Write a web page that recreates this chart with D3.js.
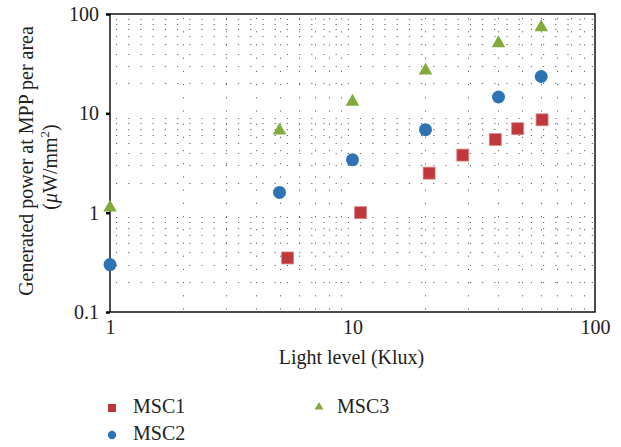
<!DOCTYPE html>
<html><head><meta charset="utf-8">
<script src="https://cdn.jsdelivr.net/npm/d3@7"></script>
<style>
body{margin:0;background:#fff;}
text{font-family:"Liberation Serif","Times New Roman",serif;fill:#222;}
</style></head>
<body>
<svg id="c" width="621" height="447"></svg>
<script>
const msc1X = [5.4, 10.8, 20.7, 28.5, 38.8, 48, 60.5];
const msc1Y = [0.35, 1.0, 2.5, 3.8, 5.45, 7.0, 8.6];
const msc2X = [1, 5, 10, 20, 40, 60];
const msc2Y = [0.3, 1.6, 3.4, 6.85, 14.6, 23.5];
const msc3X = [1, 5, 10, 20, 40, 60];
const msc3Y = [1.15, 6.85, 13.4, 27.5, 52, 75];
const xTicks = [1, 10, 100];
const yTicks = [0.1, 1, 10, 100];
const yTickLabels = ["0.1", "1", "10", "100"];
const seriesNames = ["MSC1", "MSC2", "MSC3"];

const svg = d3.select("#c");
const L = 110, R = 595, T = 14, B = 312;
const FS = 20;
const x = d3.scaleLog().domain([1, 100]).range([L, R]);
const y = d3.scaleLog().domain([0.1, 100]).range([B, T]);

const minorX = [], minorY = [];
[1, 10].forEach(d => { for (let k = 2; k <= 9; k++) minorX.push(d * k); });
[0.1, 1, 10].forEach(d => { for (let k = 2; k <= 9; k++) minorY.push(d * k); });

const g = svg.append("g");
g.selectAll(".hg").data(minorY).enter().append("line")
  .attr("x1", L + 6).attr("x2", R).attr("y1", d => Math.round(y(d)) + 0.5).attr("y2", d => Math.round(y(d)) + 0.5)
  .attr("stroke", "#666").attr("stroke-width", 1).attr("stroke-dasharray", "1.2,11");
g.selectAll(".vg").data(minorX).enter().append("line")
  .attr("y1", T + 4).attr("y2", B).attr("x1", d => Math.round(x(d)) + 0.5).attr("x2", d => Math.round(x(d)) + 0.5)
  .attr("stroke", "#666").attr("stroke-width", 1).attr("stroke-dasharray", "1.2,12");

svg.append("rect").attr("x", L).attr("y", T).attr("width", R - L).attr("height", B - T)
  .attr("fill", "none").attr("stroke", "#111").attr("stroke-width", 1.5);

const yAxis = d3.axisLeft(y).tickValues(yTicks).tickFormat((d, i) => yTickLabels[i]).tickSize(4).tickPadding(7);
const ya = svg.append("g").attr("transform", `translate(${L},0)`).call(yAxis);
ya.select(".domain").remove();
ya.selectAll("line").attr("stroke", "#000").attr("stroke-width", 2.5);
ya.selectAll("text").attr("font-size", FS).attr("fill", "#222")
  .style("font-family", '"Liberation Serif", serif');

const xAxis = d3.axisBottom(x).tickValues(xTicks).tickFormat(d3.format("d")).tickSize(0).tickPadding(8);
const xa = svg.append("g").attr("transform", `translate(0,${B})`).call(xAxis);
xa.select(".domain").remove();
xa.selectAll("text").attr("font-size", FS).attr("fill", "#222")
  .style("font-family", '"Liberation Serif", serif');

svg.append("text").attr("x", (L + R) / 2 - 1).attr("y", 364).attr("text-anchor", "middle")
  .attr("font-size", FS).text("Light level (Klux)");
const yt = svg.append("text").attr("transform", "translate(33,161) rotate(-90)")
  .attr("text-anchor", "middle").attr("font-size", FS);
yt.append("tspan").text("Generated power at MPP per area");
const yt2 = svg.append("text").attr("transform", "translate(57,167) rotate(-90)")
  .attr("text-anchor", "middle").attr("font-size", FS);
yt2.append("tspan").text("(");
yt2.append("tspan").attr("font-style", "italic").text("\u03bc");
yt2.append("tspan").text("W/mm");
yt2.append("tspan").attr("font-size", 13).attr("dy", -8).text("2");
yt2.append("tspan").attr("dy", 8).text(")");

const red = "#c0383c", blue = "#2e74b5", green = "#82ab3c";
const sq = 12;
svg.append("g").selectAll("rect").data(msc1X.map((d, i) => [d, msc1Y[i]])).enter().append("rect")
  .attr("x", d => x(d[0]) - sq / 2).attr("y", d => y(d[1]) - sq / 2)
  .attr("width", sq).attr("height", sq).attr("fill", red).attr("stroke", "#d98a8c").attr("stroke-width", 0.8);
svg.append("g").selectAll("circle").data(msc2X.map((d, i) => [d, msc2Y[i]])).enter().append("circle")
  .attr("cx", d => x(d[0])).attr("cy", d => y(d[1])).attr("r", 6.5).attr("fill", blue);
const tri = d3.symbol().type(d3.symbolTriangle).size(80);
svg.append("g").selectAll("path").data(msc3X.map((d, i) => [d, msc3Y[i]])).enter().append("path")
  .attr("d", tri).attr("transform", d => `translate(${x(d[0])},${y(d[1]) + 1})`).attr("fill", green);

const lg = svg.append("g");
lg.append("rect").attr("x", 108).attr("y", 404).attr("width", 8).attr("height", 8).attr("fill", red);
lg.append("text").attr("x", 133).attr("y", 413).attr("font-size", FS).text(seriesNames[0]);
lg.append("circle").attr("cx", 112).attr("cy", 435).attr("r", 4.2).attr("fill", blue);
lg.append("text").attr("x", 133).attr("y", 440).attr("font-size", FS).text(seriesNames[1]);
lg.append("path").attr("d", d3.symbol().type(d3.symbolTriangle).size(34)).attr("transform", "translate(319,407)").attr("fill", green);
lg.append("text").attr("x", 337).attr("y", 413).attr("font-size", FS).text(seriesNames[2]);
</script>
</body></html>
